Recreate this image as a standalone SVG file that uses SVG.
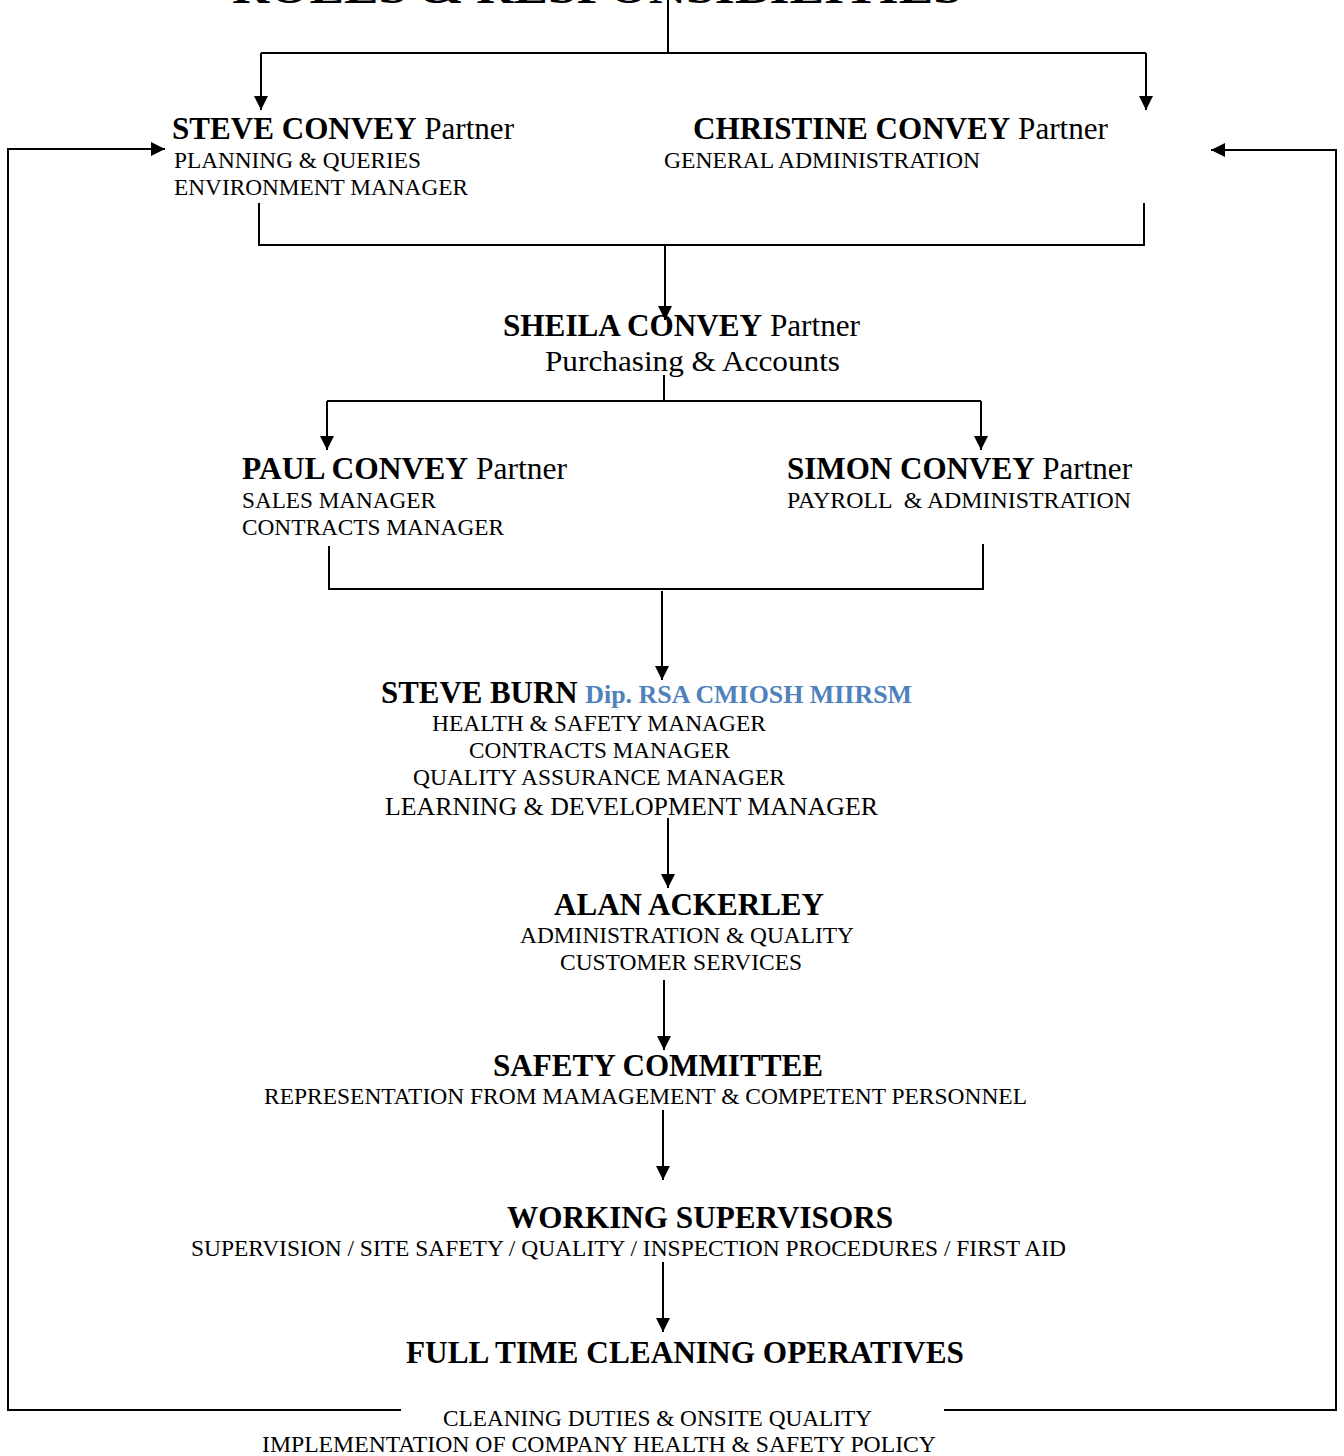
<svg xmlns="http://www.w3.org/2000/svg" width="1344" height="1456" viewBox="0 0 1344 1456">
<style>
text{font-family:"Liberation Serif","Times New Roman",serif;fill:#000}
.h{font-size:31px;font-weight:bold}
.r{font-weight:normal}
.s{font-size:23px}
.b{fill:#4F81BD;font-size:26px}
.ln{stroke:#000;stroke-width:2;fill:none}
</style>
<defs>
<marker id="ah" markerUnits="userSpaceOnUse" markerWidth="14" markerHeight="16" refX="14" refY="7" orient="auto">
<path d="M0,0 L14,7 L0,14 Z" fill="#000"/>
</marker>
</defs>
<rect width="1344" height="1456" fill="#fff"/>
<text id="title" x="232" y="3" class="h" style="font-size:44px" textLength="730" lengthAdjust="spacingAndGlyphs">ROLES &amp; RESPONSIBILITIES</text>
<g id="connectors">
<path class="ln" d="M668,0 V53"/>
<path class="ln" d="M261,53 H1146"/>
<path class="ln" d="M261,53 V110" marker-end="url(#ah)"/>
<path class="ln" d="M1146,53 V110" marker-end="url(#ah)"/>
<path class="ln" d="M401,1410 H8 V149 H165" marker-end="url(#ah)"/>
<path class="ln" d="M944,1410 H1336 V150 H1211" marker-end="url(#ah)"/>
<path class="ln" d="M259,203 V245 H1144 V203"/>
<path class="ln" d="M665,245 V320" marker-end="url(#ah)"/>
<path class="ln" d="M664,375 V401"/>
<path class="ln" d="M327,401 H981"/>
<path class="ln" d="M327,401 V450" marker-end="url(#ah)"/>
<path class="ln" d="M981,401 V450" marker-end="url(#ah)"/>
<path class="ln" d="M329,546 V589 H983 V544"/>
<path class="ln" d="M662,591 V680" marker-end="url(#ah)"/>
<path class="ln" d="M668,818 V888" marker-end="url(#ah)"/>
<path class="ln" d="M664,980 V1050" marker-end="url(#ah)"/>
<path class="ln" d="M663,1110 V1180" marker-end="url(#ah)"/>
<path class="ln" d="M663,1262 V1332" marker-end="url(#ah)"/>
</g>
<g id="steve-convey">
<text x="172" y="139" class="h" textLength="342" lengthAdjust="spacingAndGlyphs">STEVE CONVEY<tspan class="r"> Partner</tspan></text>
<text x="174" y="168" class="s" textLength="247" lengthAdjust="spacingAndGlyphs">PLANNING &amp; QUERIES</text>
<text x="174" y="195" class="s" textLength="294" lengthAdjust="spacingAndGlyphs">ENVIRONMENT MANAGER</text>
</g>
<g id="christine-convey">
<text x="693" y="139" class="h" textLength="415" lengthAdjust="spacingAndGlyphs">CHRISTINE CONVEY<tspan class="r"> Partner</tspan></text>
<text x="664" y="168" class="s" textLength="316" lengthAdjust="spacingAndGlyphs">GENERAL ADMINISTRATION</text>
</g>
<g id="sheila-convey">
<text x="503" y="336" class="h" textLength="357" lengthAdjust="spacingAndGlyphs">SHEILA CONVEY<tspan class="r"> Partner</tspan></text>
<text x="545" y="371" style="font-size:30px" textLength="295" lengthAdjust="spacingAndGlyphs">Purchasing &amp; Accounts</text>
</g>
<g id="paul-convey">
<text x="242" y="479" class="h" textLength="325" lengthAdjust="spacingAndGlyphs">PAUL CONVEY<tspan class="r"> Partner</tspan></text>
<text x="242" y="508" class="s" textLength="194" lengthAdjust="spacingAndGlyphs">SALES MANAGER</text>
<text x="242" y="535" class="s" textLength="262" lengthAdjust="spacingAndGlyphs">CONTRACTS MANAGER</text>
</g>
<g id="simon-convey">
<text x="787" y="479" class="h" textLength="345" lengthAdjust="spacingAndGlyphs">SIMON CONVEY<tspan class="r"> Partner</tspan></text>
<text x="787" y="508" class="s" textLength="344" lengthAdjust="spacingAndGlyphs" xml:space="preserve">PAYROLL  &amp; ADMINISTRATION</text>
</g>
<g id="steve-burn">
<text x="381" y="703" class="h" textLength="531" lengthAdjust="spacingAndGlyphs">STEVE BURN <tspan class="b">Dip. RSA CMIOSH MIIRSM</tspan></text>
<text x="432" y="731" class="s" textLength="334" lengthAdjust="spacingAndGlyphs">HEALTH &amp; SAFETY MANAGER</text>
<text x="469" y="758" class="s" textLength="261" lengthAdjust="spacingAndGlyphs">CONTRACTS MANAGER</text>
<text x="413" y="785" class="s" textLength="372" lengthAdjust="spacingAndGlyphs">QUALITY ASSURANCE MANAGER</text>
<text x="385" y="815" style="font-size:25px" textLength="493" lengthAdjust="spacingAndGlyphs">LEARNING &amp; DEVELOPMENT MANAGER</text>
</g>
<g id="alan-ackerley">
<text x="554" y="915" class="h" textLength="270" lengthAdjust="spacingAndGlyphs">ALAN ACKERLEY</text>
<text x="520" y="943" class="s" textLength="334" lengthAdjust="spacingAndGlyphs">ADMINISTRATION &amp; QUALITY</text>
<text x="560" y="970" class="s" textLength="242" lengthAdjust="spacingAndGlyphs">CUSTOMER SERVICES</text>
</g>
<g id="safety-committee">
<text x="493" y="1076" class="h" textLength="330" lengthAdjust="spacingAndGlyphs">SAFETY COMMITTEE</text>
<text x="264" y="1104" class="s" textLength="763" lengthAdjust="spacingAndGlyphs">REPRESENTATION FROM MAMAGEMENT &amp; COMPETENT PERSONNEL</text>
</g>
<g id="working-supervisors">
<text x="507" y="1228" class="h" textLength="386" lengthAdjust="spacingAndGlyphs">WORKING SUPERVISORS</text>
<text x="191" y="1256" class="s" textLength="875" lengthAdjust="spacingAndGlyphs">SUPERVISION / SITE SAFETY / QUALITY / INSPECTION PROCEDURES / FIRST AID</text>
</g>
<g id="cleaning-operatives">
<text x="406" y="1363" class="h" textLength="558" lengthAdjust="spacingAndGlyphs">FULL TIME CLEANING OPERATIVES</text>
<text x="443" y="1426" class="s" textLength="429" lengthAdjust="spacingAndGlyphs">CLEANING DUTIES &amp; ONSITE QUALITY</text>
<text x="262" y="1452" class="s" textLength="674" lengthAdjust="spacingAndGlyphs">IMPLEMENTATION OF COMPANY HEALTH &amp; SAFETY POLICY</text>
</g>
</svg>
